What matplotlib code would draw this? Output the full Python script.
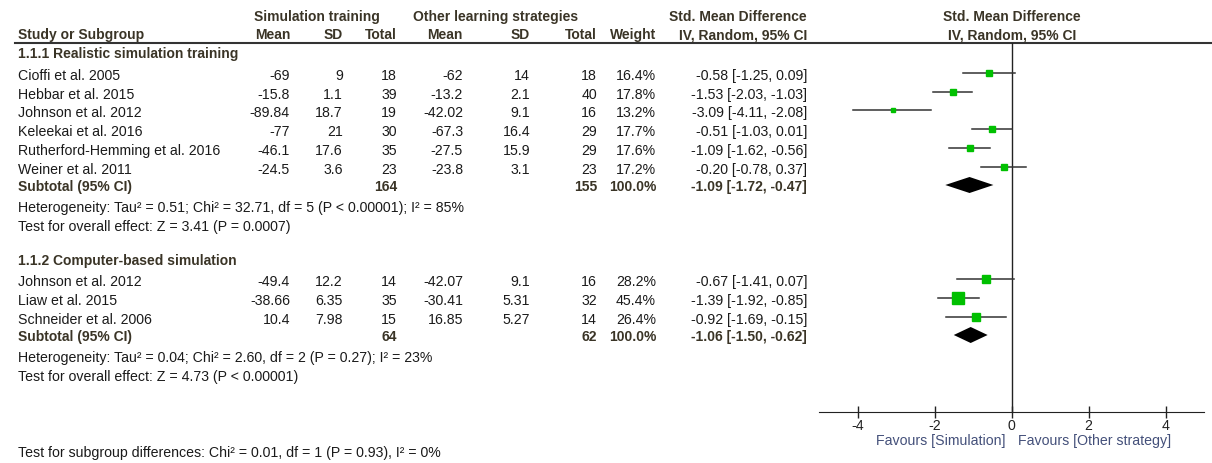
import matplotlib
matplotlib.use('Agg')
import matplotlib.pyplot as plt

plt.rcParams['font.family'] = ['Liberation Sans', 'DejaVu Sans']

# subgroup 1: realistic simulation training
studies1 = ['Cioffi et al. 2005', 'Hebbar et al. 2015', 'Johnson et al. 2012',
            'Keleekai et al. 2016', 'Rutherford-Hemming et al. 2016', 'Weiner et al. 2011']
sim_mean1 = [-69, -15.8, -89.84, -77, -46.1, -24.5]
sim_sd1 = [9, 1.1, 18.7, 21, 17.6, 3.6]
sim_n1 = [18, 39, 19, 30, 35, 23]
oth_mean1 = [-62, -13.2, -42.02, -67.3, -27.5, -23.8]
oth_sd1 = [14, 2.1, 9.1, 16.4, 15.9, 3.1]
oth_n1 = [18, 40, 16, 29, 29, 23]
weight1 = [16.4, 17.8, 13.2, 17.7, 17.6, 17.2]
smd1 = [-0.58, -1.53, -3.09, -0.51, -1.09, -0.20]
lo1 = [-1.25, -2.03, -4.11, -1.03, -1.62, -0.78]
hi1 = [0.09, -1.03, -2.08, 0.01, -0.56, 0.37]
sub1 = [-1.09, -1.72, -0.47]
tot1 = [164, 155]

# subgroup 2: computer-based simulation
studies2 = ['Johnson et al. 2012', 'Liaw et al. 2015', 'Schneider et al. 2006']
sim_mean2 = [-49.4, -38.66, 10.4]
sim_sd2 = [12.2, 6.35, 7.98]
sim_n2 = [14, 35, 15]
oth_mean2 = [-42.07, -30.41, 16.85]
oth_sd2 = [9.1, 5.31, 5.27]
oth_n2 = [16, 32, 14]
weight2 = [28.2, 45.4, 26.4]
smd2 = [-0.67, -1.39, -0.92]
lo2 = [-1.41, -1.92, -1.69]
hi2 = [0.07, -0.85, -0.15]
sub2 = [-1.06, -1.50, -0.62]
tot2 = [64, 62]

het1 = 'Heterogeneity: Tau² = 0.51; Chi² = 32.71, df = 5 (P < 0.00001); I² = 85%'
eff1 = 'Test for overall effect: Z = 3.41 (P = 0.0007)'
het2 = 'Heterogeneity: Tau² = 0.04; Chi² = 2.60, df = 2 (P = 0.27); I² = 23%'
eff2 = 'Test for overall effect: Z = 4.73 (P < 0.00001)'
subdiff = 'Test for subgroup differences: Chi² = 0.01, df = 1 (P = 0.93), I² = 0%'

xticks = [-4, -2, 0, 2, 4]

W, H = 1212, 463
fig = plt.figure(figsize=(W / 100, H / 100), dpi=100)
bg = fig.add_axes([0, 0, 1, 1])
bg.set_xlim(0, W)
bg.set_ylim(H, 0)
bg.axis('off')

FS = 10.2
FSB = 10.0
TXT = '#1a1a1a'
BOLD = '#3a3426'
BLUE = '#44507a'
GREEN = '#00c000'

# column right edges
cols = [290, 343, 397, 463, 530, 597, 656, 807]


def t(x, y, s, ha='left', bold=False, color=None):
    bg.text(x, y, s, ha=ha, va='center', fontsize=FSB if bold else FS,
            fontweight='bold' if bold else 'normal',
            color=color or (BOLD if bold else TXT))


# headers
t(317, 17, 'Simulation training', ha='center', bold=True)
t(496, 17, 'Other learning strategies', ha='center', bold=True)
t(807, 17, 'Std. Mean Difference', ha='right', bold=True)
t(1012, 17, 'Std. Mean Difference', ha='center', bold=True)
t(18, 35, 'Study or Subgroup', bold=True)
for x, s in zip(cols, ['Mean', 'SD', 'Total', 'Mean', 'SD', 'Total', 'Weight',
                       'IV, Random, 95% CI']):
    t(x, 35, s, ha='right', bold=True)
t(1012, 35, 'IV, Random, 95% CI', ha='center', bold=True)
bg.plot([15, W], [43, 43], color='#333333', lw=1.5)


def group(title, ytitle, ys, studies, sm, ssd, sn, om, osd, on, w, smd, lo, hi,
          ysub, sub, tot, het, eff):
    t(18, ytitle, title, bold=True)
    for i, y in enumerate(ys):
        t(18, y, studies[i])
        vals = [f'{sm[i]:g}', f'{ssd[i]:g}', f'{sn[i]}', f'{om[i]:g}', f'{osd[i]:g}',
                f'{on[i]}', f'{w[i]:.1f}%', f'{smd[i]:.2f} [{lo[i]:.2f}, {hi[i]:.2f}]']
        for x, s in zip(cols, vals):
            t(x, y, s, ha='right')
    t(18, ysub, 'Subtotal (95% CI)', bold=True)
    t(cols[2], ysub, str(tot[0]), ha='right', bold=True)
    t(cols[5], ysub, str(tot[1]), ha='right', bold=True)
    t(cols[6], ysub, '100.0%', ha='right', bold=True)
    t(cols[7], ysub, f'{sub[0]:.2f} [{sub[1]:.2f}, {sub[2]:.2f}]', ha='right', bold=True)
    t(18, ysub + 21, het)
    t(18, ysub + 40, eff)


ys1 = [76, 95, 113, 132, 151, 170]
ys2 = [282, 301, 320]
group('1.1.1 Realistic simulation training', 54, ys1, studies1, sim_mean1, sim_sd1,
      sim_n1, oth_mean1, oth_sd1, oth_n1, weight1, smd1, lo1, hi1, 187, sub1, tot1,
      het1, eff1)
group('1.1.2 Computer-based simulation', 261, ys2, studies2, sim_mean2, sim_sd2,
      sim_n2, oth_mean2, oth_sd2, oth_n2, weight2, smd2, lo2, hi2, 337, sub2, tot2,
      het2, eff2)
t(18, 453, subdiff)

# forest panel: x in SMD units, y in pixel rows
x0, x1, ytop, ybot = 819, 1204, 43, 412
fa = fig.add_axes([x0 / W, 1 - ybot / H, (x1 - x0) / W, (ybot - ytop) / H])
fa.set_xlim(-5, 5)
fa.set_ylim(ybot, ytop)
fa.patch.set_alpha(0)
for s in ['top', 'left', 'right']:
    fa.spines[s].set_visible(False)
fa.spines['bottom'].set_color('#222222')
fa.set_yticks([])
fa.set_xticks(xticks)
fa.set_xticklabels([f'{v}' for v in xticks])
fa.tick_params(axis='x', direction='inout', length=8, width=1, colors='#222222',
               labelsize=FS, pad=1)
fa.axvline(0, color='#222222', lw=1)


def forest(ys, smd, lo, hi, w, ysub, sub):
    for y, m, a, b, wt in zip(ys, smd, lo, hi, w):
        yy = y - 3
        fa.plot([a, b], [yy, yy], color='#333333', lw=1.1, zorder=2)
        side = (2.2 + 0.21 * wt) * 0.72
        fa.plot(m, yy, marker='s', ms=side, color=GREEN, mec=GREEN, zorder=3)
    yd = ysub - 2
    fa.fill([sub[1], sub[0], sub[2], sub[0]], [yd, yd - 8, yd, yd + 8],
            color='black', lw=0, zorder=3)


forest(ys1, smd1, lo1, hi1, weight1, 187, sub1)
forest(ys2, smd2, lo2, hi2, weight2, 337, sub2)

t(1006, 441, 'Favours [Simulation]', ha='right', color=BLUE)
t(1018, 441, 'Favours [Other strategy]', color=BLUE)

fig.savefig('out.png', dpi=100)
